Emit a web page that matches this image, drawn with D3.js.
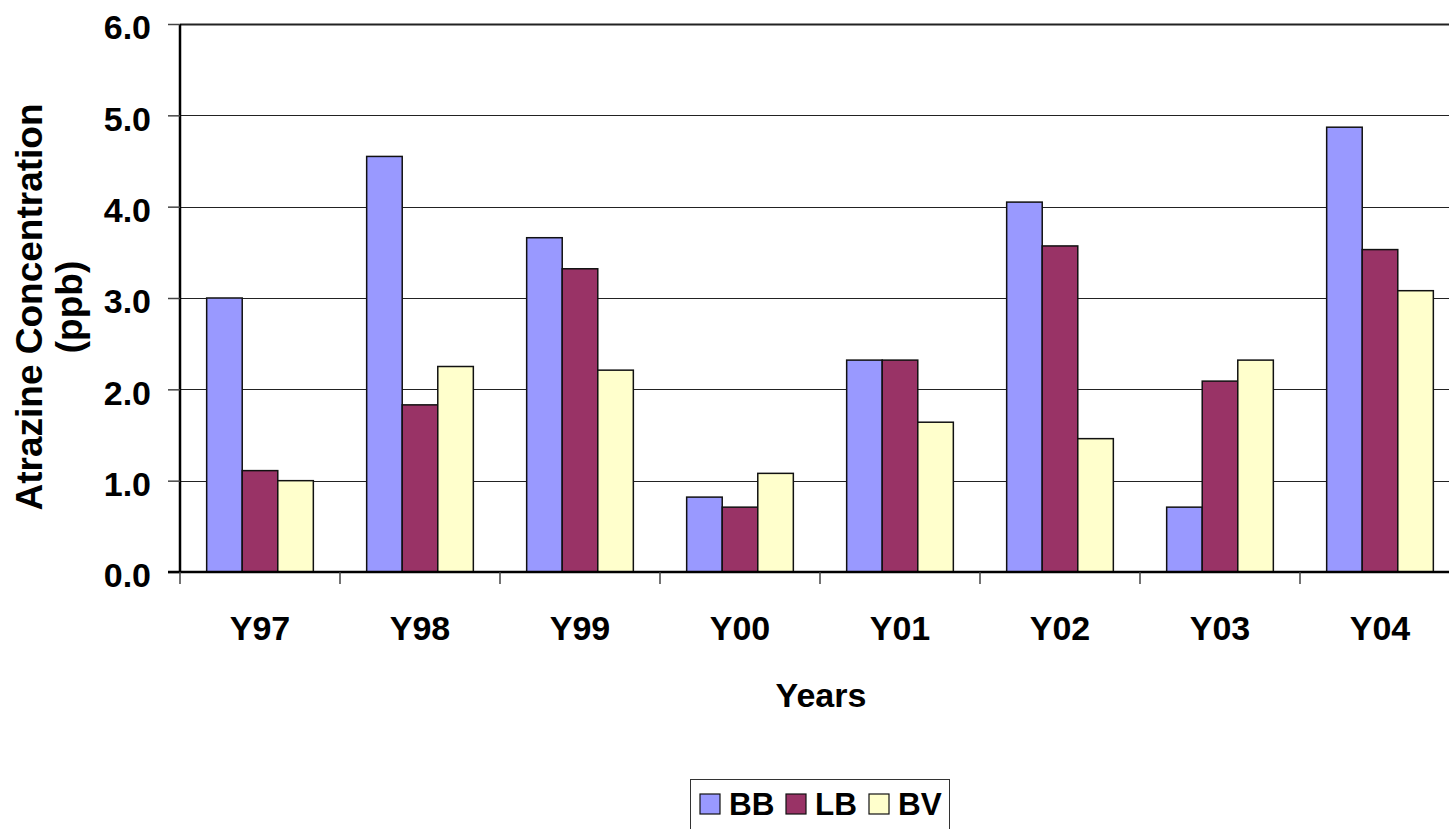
<!DOCTYPE html>
<html>
<head>
<meta charset="utf-8">
<script src="https://cdn.jsdelivr.net/npm/d3@7"></script>
<style>
  html, body { margin: 0; padding: 0; background: #fff; overflow: hidden; }
  svg { display: block; font-family: Arial, "Liberation Sans", Helvetica, sans-serif; font-weight: bold; }
</style>
</head>
<body>
<svg id="chart" width="1449" height="829"></svg>
<script>
// Annual atrazine concentrations (ppb) at three sites
const years = ["Y97", "Y98", "Y99", "Y00", "Y01", "Y02", "Y03", "Y04"];
const seriesNames = ["BB", "LB", "BV"];
const bbValues = [3.00, 4.55, 3.66, 0.82, 2.32, 4.05, 0.71, 4.87];
const lbValues = [1.11, 1.83, 3.32, 0.71, 2.32, 3.57, 2.09, 3.53];
const bvValues = [1.00, 2.25, 2.21, 1.08, 1.64, 1.46, 2.32, 3.08];
const yTicks = [0, 1, 2, 3, 4, 5, 6];
const seriesColors = ["#9999FF", "#993366", "#FFFFCC"];

const valuesBySeries = { BB: bbValues, LB: lbValues, BV: bvValues };
const rows = years.map((yr, i) => ({
  year: yr,
  values: seriesNames.map(s => ({ series: s, value: valuesBySeries[s][i] }))
}));

const svg = d3.select("#chart");
const plot = { left: 180, right: 1460, top: 24, bottom: 572 };

const x = d3.scaleBand().domain(years).range([plot.left, plot.right]).padding(0);
const bandW = x.bandwidth();
const gap = bandW / 6; // gap width 150% of a bar
const xs = d3.scaleBand().domain(seriesNames).range([gap, bandW - gap]).padding(0);
const y = d3.scaleLinear().domain([0, 6]).range([plot.bottom, plot.top]);
const color = d3.scaleOrdinal().domain(seriesNames).range(seriesColors);

// horizontal gridlines
svg.append("g")
  .selectAll("line")
  .data(yTicks.filter(t => t > 0))
  .join("line")
  .attr("x1", plot.left).attr("x2", plot.right)
  .attr("y1", d => Math.round(y(d)) + 0.5).attr("y2", d => Math.round(y(d)) + 0.5)
  .attr("stroke", "#222")
  .attr("stroke-width", d => d === 6 ? 2 : 1);

// bars
const groups = svg.append("g")
  .selectAll("g")
  .data(rows)
  .join("g")
  .attr("transform", d => `translate(${x(d.year)},0)`);

groups.selectAll("rect")
  .data(d => d.values)
  .join("rect")
  .attr("x", d => xs(d.series))
  .attr("y", d => y(d.value))
  .attr("width", xs.bandwidth())
  .attr("height", d => y(0) - y(d.value))
  .attr("fill", d => color(d.series))
  .attr("stroke", "#111")
  .attr("stroke-width", 1.5);

// y axis
const yAxis = d3.axisLeft(y)
  .tickValues(yTicks)
  .tickFormat(d3.format(".1f"))
  .tickSize(12)
  .tickPadding(17);
const gy = svg.append("g")
  .attr("transform", `translate(${plot.left},0)`)
  .call(yAxis);
gy.select(".domain").attr("stroke", "#000").attr("stroke-width", 2.5)
  .attr("d", `M0,${plot.top}V${plot.bottom}`);
gy.selectAll(".tick line").attr("stroke", "#444").attr("stroke-width", 1.5);
gy.selectAll(".tick text")
  .attr("font-size", 34).attr("font-weight", "bold")
  .attr("font-family", "Arial, 'Liberation Sans', sans-serif")
  .attr("fill", "#000")
  .attr("dy", "0.44em");

// x axis: ticks on category boundaries
const gx = svg.append("g").attr("transform", `translate(0,${plot.bottom})`);
gx.append("line")
  .attr("x1", plot.left - 12).attr("x2", plot.right)
  .attr("y1", 0).attr("y2", 0)
  .attr("stroke", "#000").attr("stroke-width", 2.5);
const boundaries = years.map(yr => x(yr)).concat([plot.right]);
gx.selectAll("line.tick")
  .data(boundaries)
  .join("line")
  .attr("class", "tick")
  .attr("x1", d => d).attr("x2", d => d)
  .attr("y1", 0).attr("y2", 12)
  .attr("stroke", "#444").attr("stroke-width", 1.5);
gx.selectAll("text")
  .data(years)
  .join("text")
  .attr("x", d => x(d) + bandW / 2)
  .attr("y", 68)
  .attr("text-anchor", "middle")
  .attr("font-size", 34)
  .text(d => d);

// axis titles
svg.append("text")
  .attr("x", 821).attr("y", 707)
  .attr("text-anchor", "middle")
  .attr("font-size", 34)
  .text("Years");

const yTitle = svg.append("text")
  .attr("transform", "translate(42,307) rotate(-90)")
  .attr("text-anchor", "middle")
  .attr("font-size", 37);
yTitle.append("tspan").attr("x", 0).attr("dy", 0).text("Atrazine Concentration");
yTitle.append("tspan").attr("x", 0).attr("dy", 40).text("(ppb)");

// legend
const legend = svg.append("g").attr("transform", "translate(690,779)");
legend.append("rect")
  .attr("x", 0.5).attr("y", 0.5).attr("width", 259).attr("height", 70)
  .attr("fill", "#fff").attr("stroke", "#333").attr("stroke-width", 1);
const items = legend.selectAll("g.item")
  .data(seriesNames)
  .join("g")
  .attr("class", "item")
  .attr("transform", (d, i) => `translate(${[10, 96, 179][i]},0)`);
items.append("rect")
  .attr("x", 0).attr("y", 15).attr("width", 20).attr("height", 20)
  .attr("fill", d => color(d)).attr("stroke", "#111").attr("stroke-width", 1.2);
items.append("text")
  .attr("x", 29).attr("y", 36)
  .attr("font-size", 31.5)
  .text(d => d);
</script>
</body>
</html>
